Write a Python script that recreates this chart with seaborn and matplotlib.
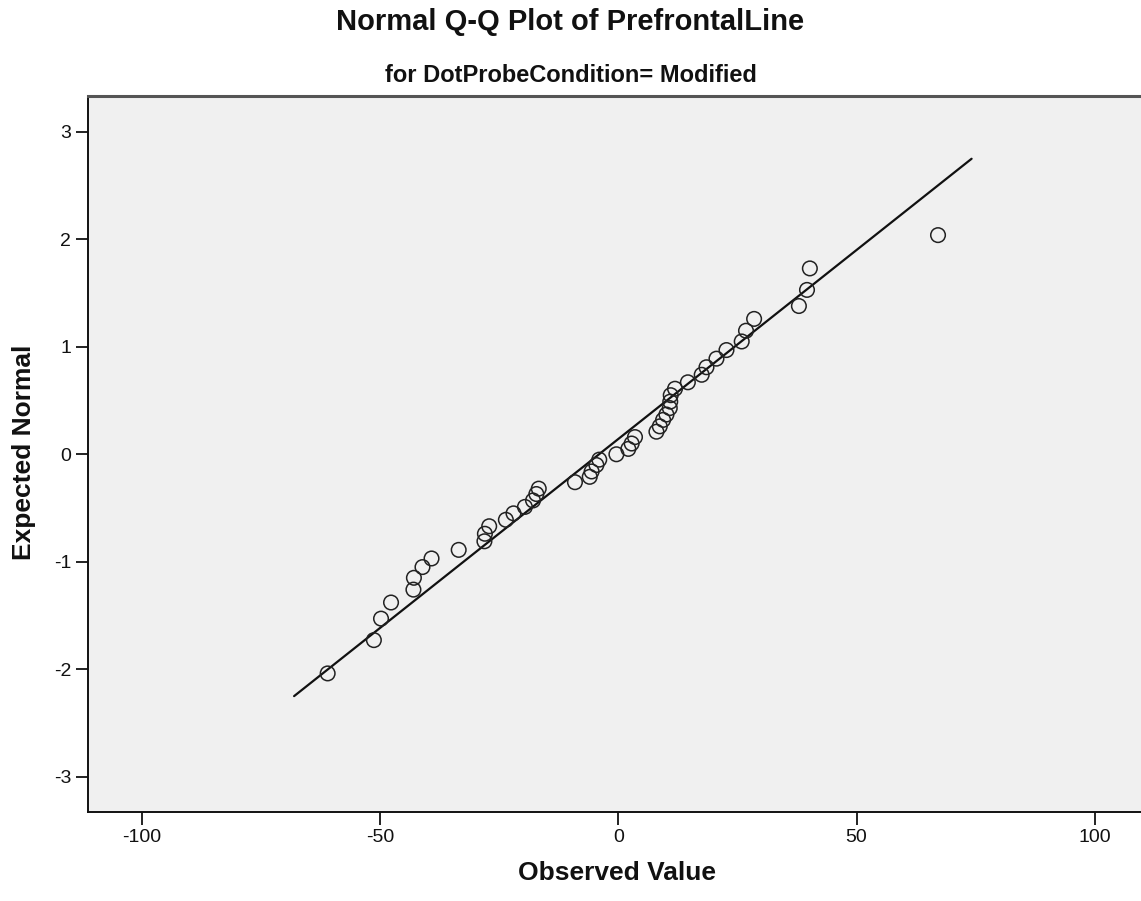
import numpy as np
import pandas as pd
import matplotlib
matplotlib.use("Agg")
import matplotlib.pyplot as plt
import seaborn as sns

# Observed PrefrontalLine values (sorted) and their expected normal scores
observed = [-61.0, -51.3, -49.8, -47.7, -43.0, -42.9, -41.1, -39.2, -33.5, -28.1,
            -28.0, -27.1, -23.6, -22.0, -19.6, -17.9, -17.2, -16.7, -9.1, -6.0,
            -5.6, -4.6, -4.0, -0.4, 2.1, 2.8, 3.5, 8.0, 8.7, 9.4,
            10.1, 10.8, 10.9, 11.0, 11.9, 14.6, 17.5, 18.5, 20.6, 22.7,
            25.9, 26.8, 28.5, 37.9, 39.6, 40.2, 67.1]
expected = [-2.04, -1.73, -1.53, -1.38, -1.26, -1.15, -1.05, -0.97, -0.89, -0.81,
            -0.74, -0.67, -0.61, -0.55, -0.49, -0.43, -0.37, -0.32, -0.26, -0.21,
            -0.16, -0.10, -0.05, 0.00, 0.05, 0.10, 0.16, 0.21, 0.26, 0.32,
            0.37, 0.43, 0.49, 0.55, 0.61, 0.67, 0.74, 0.81, 0.89, 0.97,
            1.05, 1.15, 1.26, 1.38, 1.53, 1.73, 2.04]

x_ticks = [-100, -50, 0, 50, 100]
y_ticks = [-3, -2, -1, 0, 1, 2, 3]

title = "Normal Q-Q Plot of PrefrontalLine"
subtitle = "for DotProbeCondition= Modified"
x_label = "Observed Value"
y_label = "Expected Normal"

df = pd.DataFrame({"observed": observed, "expected": expected})

# Reference line: standardised normal line through the sample mean / sd,
# extended a little beyond the data range
mean = np.mean(observed)
sd = np.std(observed, ddof=1)
span = max(observed) - min(observed)
pad = 0.055 * span
line_x = np.array([min(observed) - pad, max(observed) + pad])
line_df = pd.DataFrame({"x": line_x, "y": (line_x - mean) / sd})

sns.set_style("white")
plt.rcParams["font.family"] = ["Liberation Sans", "DejaVu Sans"]

fig = plt.figure(figsize=(11.41, 9.01), dpi=100)
ax = fig.add_axes([88 / 1141, 1 - 812 / 901, 1 - 88 / 1141, (812 - 96) / 901])
ax.set_facecolor("#f0f0f0")

sns.lineplot(data=line_df, x="x", y="y", ax=ax, color="#111111", linewidth=1.6,
             zorder=2)
sns.scatterplot(data=df, x="observed", y="expected", ax=ax, s=110,
                facecolor="none", edgecolor="#222222", linewidth=1.1, zorder=3)

ax.set_xlim(-111.3, 109.7)
ax.set_ylim(-3.33, 3.335)
ax.set_xticks(x_ticks)
ax.set_yticks(y_ticks)
ax.set_xticklabels([str(t) for t in x_ticks])
ax.set_yticklabels([str(t) for t in y_ticks])
ax.tick_params(axis="both", direction="out", length=9, width=1.3, pad=3,
               labelsize=14, colors="#111111", left=True, bottom=True)

for side in ("left", "bottom"):
    ax.spines[side].set_color("#111111")
    ax.spines[side].set_linewidth(1.4)
ax.spines["top"].set_color("#555555")
ax.spines["top"].set_linewidth(2.2)
ax.spines["right"].set_visible(False)

ax.set_xlabel(x_label, fontsize=19, fontweight="bold", color="#111111")
ax.set_ylabel(y_label, fontsize=19, fontweight="bold", color="#111111")
ax.xaxis.set_label_coords(0.502, -0.085)
ax.xaxis.label.set_va("center")
ax.yaxis.set_label_coords(-0.061, 0.503)
ax.yaxis.label.set_va("center")

fig.text(0.5, 1 - 22 / 901, title, ha="center", va="center", fontsize=21,
         fontweight="bold", color="#111111")
fig.text(0.5, 1 - 75 / 901, subtitle, ha="center", va="center", fontsize=17,
         fontweight="bold", color="#111111")

fig.savefig("out.png", dpi=100, facecolor="white")
